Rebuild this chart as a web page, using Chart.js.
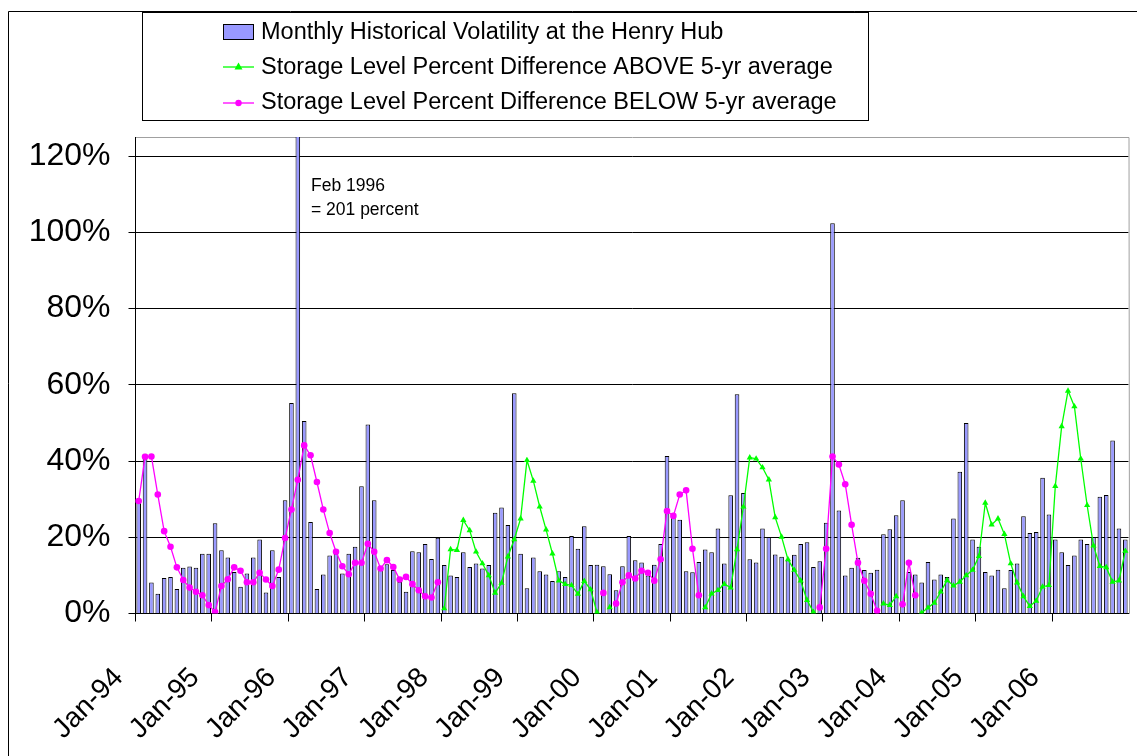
<!DOCTYPE html>
<html>
<head>
<meta charset="utf-8">
<script src="https://cdn.jsdelivr.net/npm/chart.js@4.4.1/dist/chart.umd.min.js"></script>
<style>
  html, body { margin: 0; padding: 0; background: #fff; }
  #wrap { position: relative; width: 1137px; height: 756px; overflow: hidden; }
  canvas { display: block; }
</style>
</head>
<body>
<div id="wrap"><canvas id="c" width="1137" height="756"></canvas></div>
<script>
// ---------- DATA ----------
const monthNames = ['Jan','Feb','Mar','Apr','May','Jun','Jul','Aug','Sep','Oct','Nov','Dec'];
const years = ['94','95','96','97','98','99','00','01','02','03','04','05','06'];
const categories = [];
years.forEach(y => monthNames.forEach(m => categories.push(m + '-' + y)));

const yTickValues = [0, 20, 40, 60, 80, 100, 120];

// Monthly historical volatility at the Henry Hub (percent)
const volatility = [
  29.7, 41.9, 8.1, 5.2, 9.3, 9.6, 6.4, 12.0, 12.3, 12.0, 15.7, 15.7,
  23.7, 16.6, 14.7, 10.9, 7.0, 10.5, 14.7, 19.4, 5.5, 16.6, 9.6, 29.7,
  55.2, 201, 50.5, 24.0, 6.4, 10.2, 15.2, 15.7, 10.5, 15.7, 17.5, 33.4,
  49.6, 29.7, 12.2, 12.9, 11.4, 8.3, 5.7, 16.3, 16.1, 18.2, 14.3, 19.9,
  12.7, 10.0, 9.6, 16.1, 12.2, 13.1, 11.8, 12.7, 26.4, 27.8, 23.2, 57.8,
  15.7, 6.6, 14.7, 11.1, 10.2, 8.5, 11.1, 9.6, 20.3, 17.0, 22.9, 12.7,
  12.8, 12.4, 10.3, 6.1, 12.4, 20.3, 14.0, 13.4, 10.0, 12.8, 18.2, 41.3,
  25.3, 24.6, 11.1, 10.8, 13.5, 16.8, 16.1, 22.3, 13.1, 31.0, 57.5, 31.6,
  14.2, 13.4, 22.3, 20.1, 15.5, 14.9, 14.0, 15.4, 18.2, 18.7, 12.2, 13.7,
  23.8, 102.4, 27.0, 10.0, 12.0, 14.6, 11.4, 10.7, 11.5, 20.8, 22.1, 25.8,
  29.7, 10.9, 10.2, 8.1, 13.5, 8.9, 10.2, 9.6, 24.9, 37.2, 50.0, 19.4,
  17.5, 10.9, 10.0, 11.5, 6.6, 11.4, 13.1, 25.5, 21.1, 21.4, 35.6, 26.0,
  19.4, 16.1, 12.7, 15.2, 19.4, 18.2, 20.1, 30.6, 31.1, 45.4, 22.3, 19.4
];

const N = null;
// Storage level percent difference ABOVE 5-yr average
const above = [
  N, N, N, N, N, N, N, N, N, N, N, N,
  N, N, N, N, N, N, N, N, N, N, N, N,
  N, N, N, N, N, N, N, N, N, N, N, N,
  N, N, N, N, N, N, N, N, N, N, N, N,
  1.3, 16.8, 16.6, 24.5, 21.8, 16.2, 13.1, 10.0, 5.4, 8.0, 14.9, 19.4,
  24.9, 40.2, 34.8, 28.0, 22.0, 15.7, 8.6, 7.7, 7.4, 5.1, 8.5, 6.3,
  0.3, N, 1.6, N, N, N, N, N, N, N, N, N,
  N, N, N, N, N, 1.6, 5.2, 6.1, 7.7, 6.8, 16.8, 28.0,
  40.9, 40.6, 38.3, 35.1, 25.2, 20.1, 14.2, 11.4, 8.6, 3.5, 0.4, N,
  N, N, N, N, N, N, N, N, N, 2.6, 2.2, 4.5,
  N, N, N, 0.2, 1.5, 2.8, 5.7, 8.7, 7.3, 8.3, 10.0, 11.4,
  15.0, 29.0, 23.3, 24.9, 20.8, 13.1, 8.1, 4.5, 1.9, 3.3, 7.0, 7.4,
  33.4, 49.1, 58.4, 54.3, 40.6, 28.4, 17.8, 12.4, 12.1, 8.3, 8.6, 16.4
];

// Storage level percent difference BELOW 5-yr average
const below = [
  29.5, 41.1, 41.2, 31.2, 21.6, 17.5, 12.1, 8.8, 6.8, 5.7, 4.8, 2.2,
  0.4, 7.2, 9.0, 12.1, 11.2, 8.2, 8.2, 10.7, 8.9, 7.2, 11.5, 19.8,
  27.3, 35.1, 44.1, 41.5, 34.5, 27.3, 21.1, 16.2, 12.4, 10.3, 13.3, 13.3,
  18.3, 16.2, 11.8, 14.0, 12.2, 8.9, 9.6, 7.7, 6.1, 4.5, 4.2, 8.2,
  N, N, N, N, N, N, N, N, N, N, N, N,
  N, N, N, N, N, N, N, N, N, N, N, N,
  N, 5.4, N, 2.6, 8.2, 10.0, 9.2, 11.2, 10.7, 8.6, 14.2, 26.9,
  25.6, 31.2, 32.3, 17.0, 4.8, N, N, N, N, N, N, N,
  N, N, N, N, N, N, N, N, N, N, N, 1.6,
  17.0, 41.2, 39.1, 33.9, 23.3, 13.3, 8.6, 5.2, 0.7, N, N, N,
  2.4, 13.3, 4.8, N, N, N, N, N, N, N, N, N,
  N, N, N, N, N, N, N, N, N, N, N, N,
  N, N, N, N, N, N, N, N, N, N, N, N
];

const seriesLabels = [
  'Monthly Historical Volatility at the Henry Hub',
  'Storage Level Percent Difference ABOVE 5-yr average',
  'Storage Level Percent Difference BELOW 5-yr average'
];
const annotationLines = ['Feb 1996', '= 201 percent'];

// ---------- STYLE ----------
const FONT = '"Liberation Sans", Arial, sans-serif';
const BAR_FILL = '#9999ff';
const GREEN = '#00ff00';
const MAGENTA = '#ff00ff';

// Frame + legend + annotation plugin
const decor = {
  id: 'decor',
  beforeDatasetsDraw(chart) {
    const {ctx, chartArea: a} = chart;
    ctx.save();
    ctx.strokeStyle = '#a0a0a0';
    ctx.lineWidth = 1;
    ctx.beginPath();
    ctx.moveTo(Math.round(a.left), Math.round(a.top) + 0.5);
    ctx.lineTo(Math.round(a.right), Math.round(a.top) + 0.5);
    ctx.lineTo(Math.round(a.right) + 0.5, Math.round(a.bottom));
    ctx.stroke();
    ctx.restore();
  },
  afterDraw(chart) {
    const {ctx} = chart;
    ctx.save();
    // outer frame
    ctx.strokeStyle = '#000';
    ctx.lineWidth = 1;
    ctx.beginPath();
    ctx.moveTo(8.5, 756);
    ctx.lineTo(8.5, 11.5);
    ctx.lineTo(1137, 11.5);
    ctx.stroke();
    // legend box
    ctx.fillStyle = '#fff';
    ctx.fillRect(142.5, 12.5, 726, 108);
    ctx.strokeRect(142.5, 12.5, 726, 108);
    ctx.font = '23.5px ' + FONT;
    ctx.textBaseline = 'alphabetic';
    ctx.textAlign = 'left';
    const baselines = [39, 73.5, 109];
    // row 1: bar swatch
    ctx.fillStyle = BAR_FILL;
    ctx.fillRect(223.5, 24.5, 30, 15);
    ctx.strokeStyle = '#000';
    ctx.strokeRect(223.5, 24.5, 30, 15);
    ctx.fillStyle = '#000';
    ctx.fillText(seriesLabels[0], 261, baselines[0]);
    // row 2: green line + triangle
    let ly = baselines[1] - 6.5;
    ctx.strokeStyle = GREEN; ctx.fillStyle = GREEN; ctx.lineWidth = 1.3;
    ctx.beginPath(); ctx.moveTo(223, ly); ctx.lineTo(254, ly); ctx.stroke();
    ctx.beginPath(); ctx.moveTo(238.5, ly - 4.5); ctx.lineTo(242.5, ly + 2.5); ctx.lineTo(234.5, ly + 2.5); ctx.closePath(); ctx.fill();
    ctx.fillStyle = '#000';
    ctx.fillText(seriesLabels[1], 261, baselines[1]);
    // row 3: magenta line + circle
    ly = baselines[2] - 6;
    ctx.strokeStyle = MAGENTA; ctx.fillStyle = MAGENTA;
    ctx.beginPath(); ctx.moveTo(223, ly); ctx.lineTo(254, ly); ctx.stroke();
    ctx.beginPath(); ctx.arc(238.5, ly, 3.2, 0, Math.PI * 2); ctx.fill();
    ctx.fillStyle = '#000';
    ctx.fillText(seriesLabels[2], 261, baselines[2]);
    // annotation
    ctx.font = '17.5px ' + FONT;
    ctx.fillText(annotationLines[0], 311, 191);
    ctx.fillText(annotationLines[1], 311, 214.5);
    ctx.restore();
  }
};

const PLOT_LEFT = 135.5, PLOT_RIGHT = 1128.5, PLOT_TOP = 137, PLOT_BOTTOM = 613.5;

new Chart(document.getElementById('c'), {
  data: {
    labels: categories,
    datasets: [
      {
        type: 'line', label: seriesLabels[1], data: above,
        borderColor: GREEN, backgroundColor: GREEN, borderWidth: 1.3,
        pointStyle: 'triangle', pointRadius: 3.6, pointBorderWidth: 0,
        pointBackgroundColor: GREEN, spanGaps: false, tension: 0, order: 1
      },
      {
        type: 'line', label: seriesLabels[2], data: below,
        borderColor: MAGENTA, backgroundColor: MAGENTA, borderWidth: 1.3,
        pointStyle: 'circle', pointRadius: 3.3, pointBorderWidth: 0,
        pointBackgroundColor: MAGENTA, spanGaps: false, tension: 0, order: 2
      },
      {
        type: 'bar', label: seriesLabels[0], data: volatility,
        backgroundColor: BAR_FILL, borderColor: '#000', borderWidth: 1,
        categoryPercentage: 1.0, barPercentage: 0.72, order: 3
      }
    ]
  },
  options: {
    responsive: false,
    animation: false,
    devicePixelRatio: 1,
    layout: { padding: { left: 0, right: 1137 - PLOT_RIGHT, top: PLOT_TOP, bottom: 0 } },
    plugins: { legend: { display: false }, tooltip: { enabled: false } },
    scales: {
      x: {
        type: 'category',
        offset: true,
        afterFit(scale) {
          scale.height = 756 - PLOT_BOTTOM;
          scale.paddingLeft = 0;
          scale.paddingRight = 0;
        },
        grid: {
          offset: true,
          drawOnChartArea: false,
          drawTicks: true,
          tickLength: 8,
          color: (c) => (c.index % 12 === 0 ? '#000' : 'rgba(0,0,0,0)'),
          lineWidth: 1
        },
        border: { display: true, color: '#000', width: 1 },
        ticks: {
          autoSkip: false,
          minRotation: 45,
          maxRotation: 45,
          padding: 40,
          labelOffset: -20,
          color: '#000',
          font: { family: FONT, size: 28 },
          callback: function (v, i) { return i % 12 === 0 ? categories[i] : ''; }
        }
      },
      y: {
        type: 'linear',
        min: 0,
        max: 125,
        afterFit(scale) { scale.width = PLOT_LEFT; },
        afterBuildTicks(scale) { scale.ticks = yTickValues.map(v => ({ value: v })); },
        grid: { color: '#000', lineWidth: 1, tickLength: 7, drawTicks: true },
        border: { display: true, color: '#000', width: 1 },
        ticks: {
          padding: 18,
          color: '#000',
          font: { family: FONT, size: 32 },
          callback: (v) => v + '%'
        }
      }
    }
  },
  plugins: [decor]
});
</script>
</body>
</html>
